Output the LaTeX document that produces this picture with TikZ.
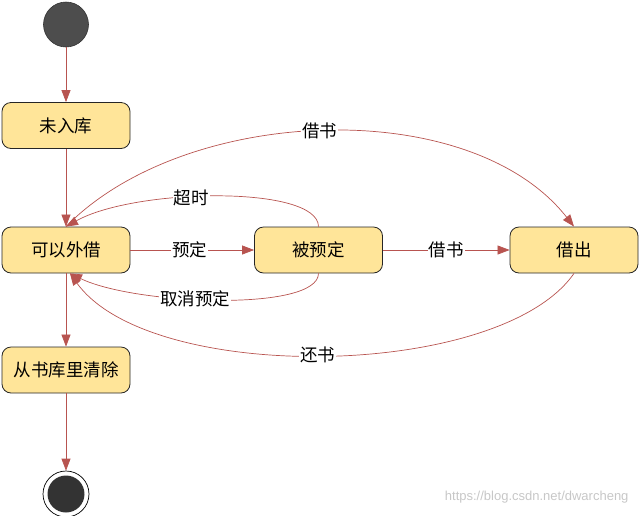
\documentclass[tikz,border=0pt]{standalone}
\usepackage{fontspec}
\setmainfont{Noto Sans CJK SC}
\newfontfamily\urlfont{Liberation Sans}
\usetikzlibrary{arrows.meta}
\definecolor{edgec}{HTML}{B85450}
\definecolor{boxfill}{HTML}{FFE599}
\definecolor{startfill}{HTML}{4D4D4D}
\definecolor{endfill}{HTML}{333333}
\tikzset{
  state/.style={draw=black!85, fill=boxfill, rounded corners=9pt, minimum width=128pt, minimum height=46pt, line width=0.8pt, font=\fontsize{17.5}{19}\selectfont, inner sep=0pt},
  edge/.style={draw=edgec, line width=0.7pt, -{Triangle[length=12pt,width=9pt]}},
  lbl/.style={fill=white, font=\fontsize{17.5}{19}\selectfont, inner sep=1pt},
}
\begin{document}
\begin{tikzpicture}[x=1pt,y=-1pt]
\useasboundingbox (0,0) rectangle (640,515);
\node[circle, draw=black!80, fill=startfill, minimum size=45pt, inner sep=0pt, line width=0.6pt] (start) at (66,24.5) {};
\node[state] (wrk) at (66,125.5) {未入库};
\node[state] (kywj) at (66,250) {可以外借};
\node[state] (byd) at (318.5,250) {被预定};
\node[state] (jc) at (574,250) {借出};
\node[state] (qc) at (66,370) {从书库里清除};
\node[circle, draw=black, fill=white, minimum size=46pt, inner sep=0pt, line width=0.7pt] (endo) at (66,494) {};
\node[circle, fill=endfill, minimum size=37pt, inner sep=0pt] (endi) at (66,494) {};

\draw[edge] (start) -- (wrk);
\draw[edge] (wrk) -- (kywj);
\draw[edge] (kywj) -- (qc);
\draw[edge] (qc) -- (endo);
\draw[edge] (kywj) -- node[lbl, pos=0.48] {预定} (byd);
\draw[edge] (byd) -- node[lbl, pos=0.5] {借书} (jc);

\draw[edge] (kywj.north) .. controls (185,105) and (470,94) .. node[lbl, pos=0.49] {借书} (jc.north);
\draw[edge] (byd.north) .. controls (318,185) and (135,188) .. node[lbl, pos=0.58] {超时} (kywj.north);
\draw[edge] (byd.south) .. controls (318,312) and (135,305) .. node[lbl, pos=0.57] {取消预定} ([xshift=4pt]kywj.south);
\draw[edge] (jc.south) .. controls (500,380) and (150,385) .. node[lbl, pos=0.51] {还书} ([xshift=4pt]kywj.south);

\node[text=black!22, font=\urlfont\fontsize{13}{15}\selectfont, anchor=east] (url) at (632,497) {https://blog.csdn.net/dwarcheng};
\end{tikzpicture}
\end{document}
